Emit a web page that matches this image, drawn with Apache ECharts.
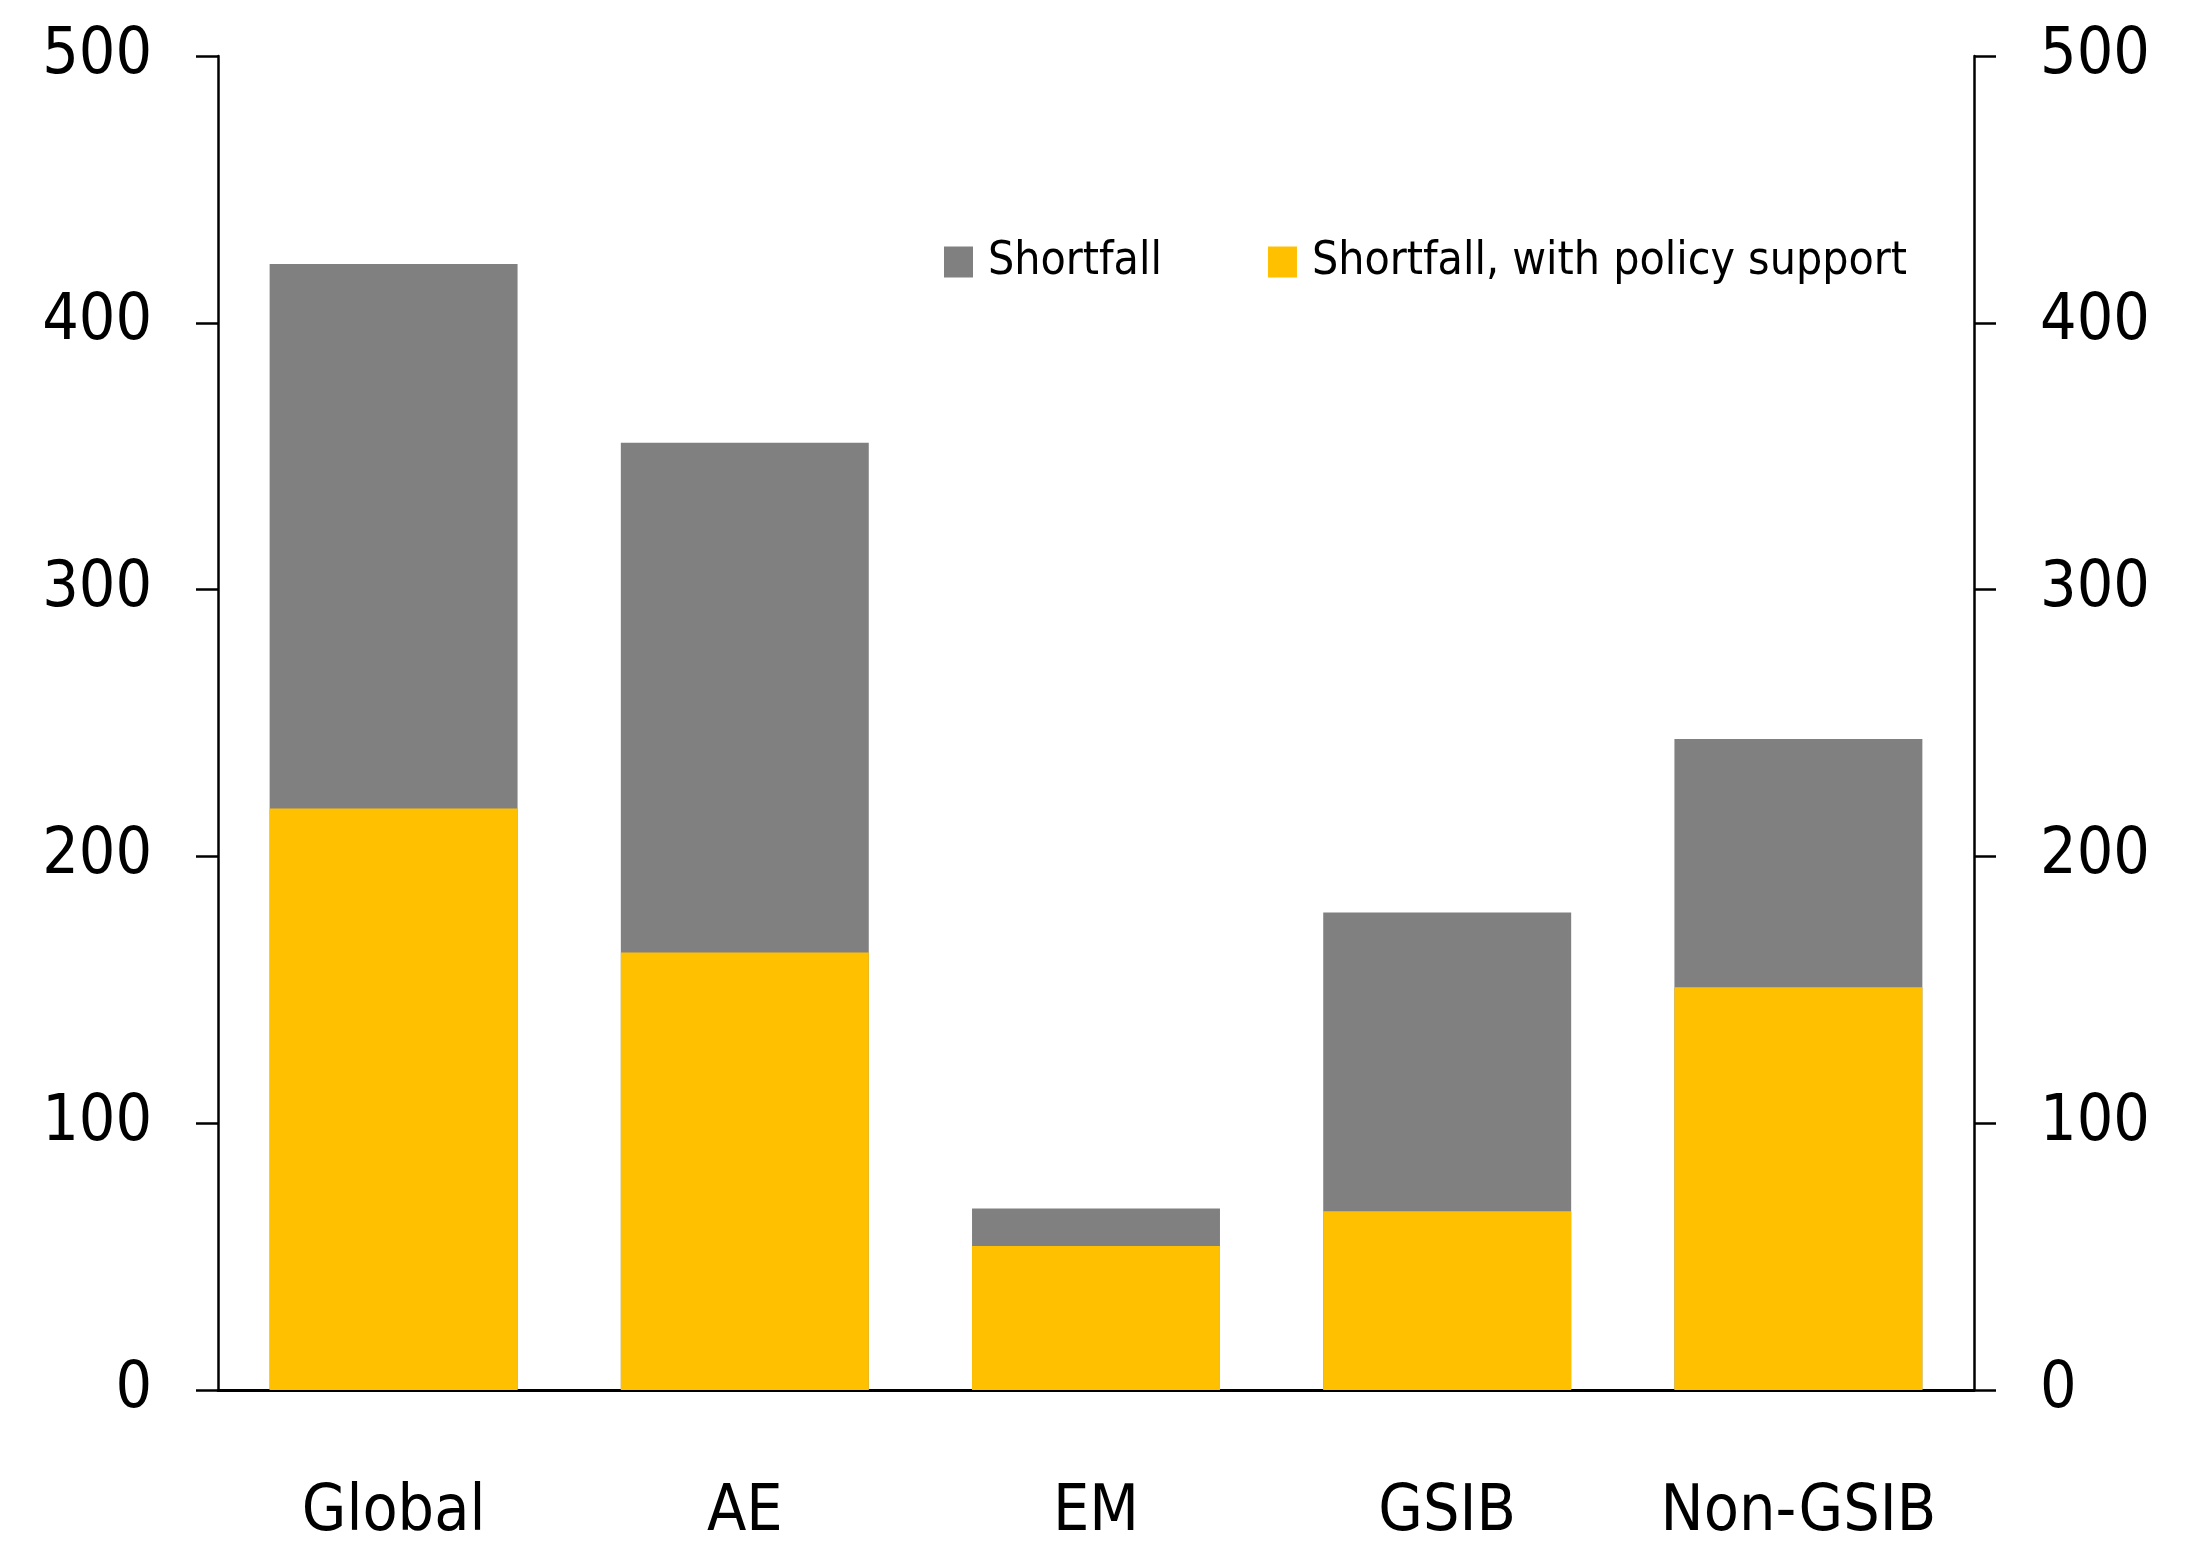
<!DOCTYPE html>
<html>
<head>
<meta charset="utf-8">
<script src="https://cdn.jsdelivr.net/npm/echarts@6/dist/echarts.min.js"></script>
<style>
  html, body { margin: 0; padding: 0; background: #fff; }
  #chart { width: 2203px; height: 1546px; }
</style>
</head>
<body>
<div id="chart"></div>
<script>
// categories along the x axis
const categories = ['Global', 'AE', 'EM', 'GSIB', 'Non-GSIB']
// total shortfall (grey bar)
const shortfall = [422, 355, 68, 179, 244]
// shortfall once policy support is counted (yellow bar, drawn over the grey)
const withSupport = [218, 164, 54, 67, 151]
// y ticks
const yMin = 0
const yMax = 500
const yStep = 100

const FONT = "'Liberation Sans Narrow', 'Arial Narrow', 'DejaVu Sans Condensed', sans-serif"

// both y axes look the same, only the side differs
function valueAxis(pos) {
  return {
    type: 'value',
    position: pos,
    min: yMin,
    max: yMax,
    interval: yStep,
    splitLine: { show: false },
    axisLine: { show: true, lineStyle: { color: '#000', width: 2.5 } },
    axisTick: { show: true, inside: false, length: 22, lineStyle: { color: '#000', width: 2.5 } },
    axisLabel: { color: '#000', fontSize: 64, fontFamily: FONT, margin: 66 }
  }
}

const chart = echarts.init(document.getElementById('chart'))
chart.setOption({
  backgroundColor: '#fff',
  animation: false,
  grid: { left: 218, right: 229, top: 56, bottom: 156 },
  legend: {
    left: 939,
    top: 234,
    itemWidth: 29,
    itemHeight: 31,
    itemGap: 106,
    icon: 'rect',
    textStyle: { color: '#000', fontSize: 46, fontFamily: FONT, padding: [0, 0, 0, 10] },
    data: ['Shortfall', 'Shortfall, with policy support']
  },
  xAxis: {
    type: 'category',
    data: categories,
    axisLine: { show: true, lineStyle: { color: '#000', width: 3 } },
    axisTick: { show: false },
    axisLabel: { color: '#000', fontSize: 64, fontFamily: FONT, margin: 91, interval: 0 }
  },
  yAxis: [valueAxis('left'), valueAxis('right')],
  series: [
    {
      name: 'Shortfall',
      type: 'bar',
      data: shortfall,
      barWidth: '70.6%',
      itemStyle: { color: '#808080' }
    },
    {
      name: 'Shortfall, with policy support',
      type: 'bar',
      data: withSupport,
      barWidth: '70.6%',
      barGap: '-100%',
      itemStyle: { color: '#FFC000' }
    }
  ]
})
</script>
</body>
</html>
